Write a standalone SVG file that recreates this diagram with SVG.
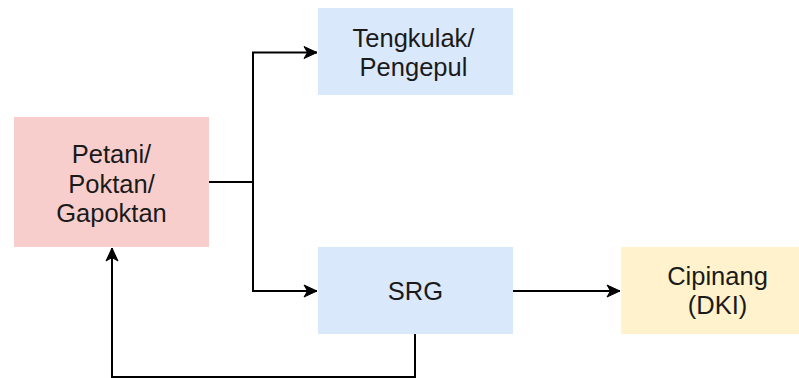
<svg xmlns="http://www.w3.org/2000/svg" width="799" height="378" viewBox="0 0 799 378">
<style>
.t{font-family:"Liberation Sans",Arial,sans-serif;font-size:25.5px;fill:#1a1a1a;text-anchor:middle}
.c{fill:none;stroke:#000;stroke-width:2}
</style>
<defs>
<marker id="a" markerWidth="16" markerHeight="16" refX="14" refY="8" orient="auto" markerUnits="userSpaceOnUse">
<path d="M1,2 L14,8 L1,14 L4.5,8 Z" fill="#000" stroke="#000" stroke-width="1" stroke-linejoin="miter"/>
</marker>
</defs>
<rect width="799" height="378" fill="#fff"/>
<g id="connectors">
<path class="c" d="M209,182 H253 V52.5 H317" marker-end="url(#a)"/>
<path class="c" d="M253,182 V291 H317" marker-end="url(#a)"/>
<path class="c" d="M513,291 H620" marker-end="url(#a)"/>
<path class="c" d="M415,334 V377 H112 V248" marker-end="url(#a)"/>
</g>
<g id="tengkulak">
<rect x="318" y="8" width="195" height="87" fill="#dae8fc"/>
<text class="t" x="413.5" y="46.5">Tengkulak/</text>
<text class="t" x="413.5" y="76">Pengepul</text>
</g>
<g id="petani">
<rect x="14" y="117" width="195" height="130" fill="#f8cecc"/>
<text class="t" x="111.5" y="163">Petani/</text>
<text class="t" x="111.5" y="192.5">Poktan/</text>
<text class="t" x="111.5" y="222">Gapoktan</text>
</g>
<g id="srg">
<rect x="318" y="247" width="195" height="87" fill="#dae8fc"/>
<text class="t" x="415.5" y="300">SRG</text>
</g>
<g id="cipinang">
<rect x="621" y="247" width="195" height="87" fill="#fff2cc"/>
<text class="t" x="717.5" y="285">Cipinang</text>
<text class="t" x="717.5" y="314">(DKI)</text>
</g>
</svg>
